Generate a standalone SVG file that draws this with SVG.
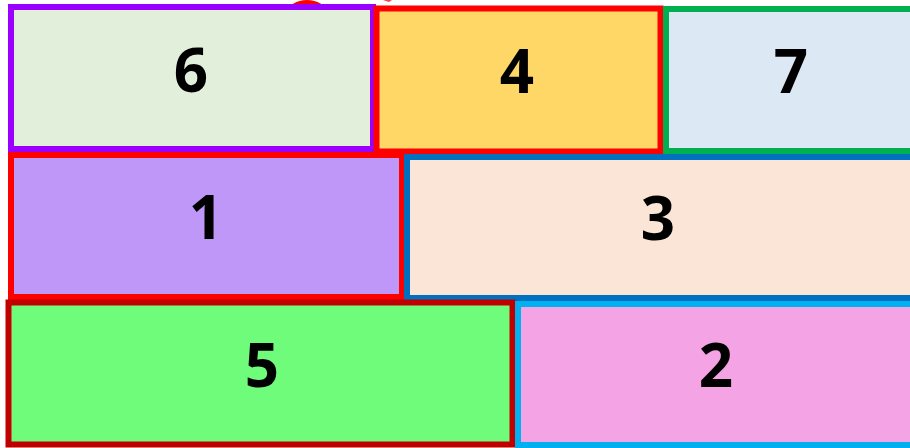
<svg xmlns="http://www.w3.org/2000/svg" width="910" height="448" viewBox="0 0 910 448">
<style>
.box{stroke-width:6}
.lbl{font-family:"Open Sans","Liberation Sans",sans-serif;font-weight:700;font-size:60px;fill:#000;text-anchor:middle}
</style>
<rect width="910" height="448" fill="#fff"/>
<ellipse cx="307" cy="12" rx="19" ry="12" fill="#ff0000"/>
<path d="M383 0 L392 0 L389 2 Z" fill="#ff4040"/>
<g id="n6"><rect class="box" x="11" y="7" width="362" height="142" fill="#e2efda" stroke="#9a00ff"/><text class="lbl" x="191" y="92">6</text></g>
<g id="n4"><rect class="box" x="376.5" y="8.5" width="284" height="143" fill="#ffd766" stroke="#ff0000" stroke-width="5"/><text class="lbl" x="517" y="93">4</text></g>
<g id="n7"><rect class="box" x="666" y="9" width="260" height="142" fill="#dde8f5" stroke="#00b050"/><text class="lbl" x="791" y="93">7</text></g>
<g id="n1"><rect class="box" x="11" y="155" width="391" height="142" fill="#bf97f8" stroke="#ff0000"/><text class="lbl" x="206" y="239">1</text></g>
<g id="n3"><rect class="box" x="407" y="157" width="520" height="141" fill="#fbe5d6" stroke="#0070c0"/><text class="lbl" x="658" y="240">3</text></g>
<g id="n5"><rect class="box" x="8.5" y="302.5" width="504" height="142" fill="#6ffc7a" stroke="#c00000" stroke-width="5"/><text class="lbl" x="262" y="387">5</text></g>
<g id="n2"><rect class="box" x="518" y="304" width="420" height="141" fill="#f4a3e5" stroke="#00b0f0"/><text class="lbl" x="716" y="387">2</text></g>
<g id="connectors"></g>
</svg>
